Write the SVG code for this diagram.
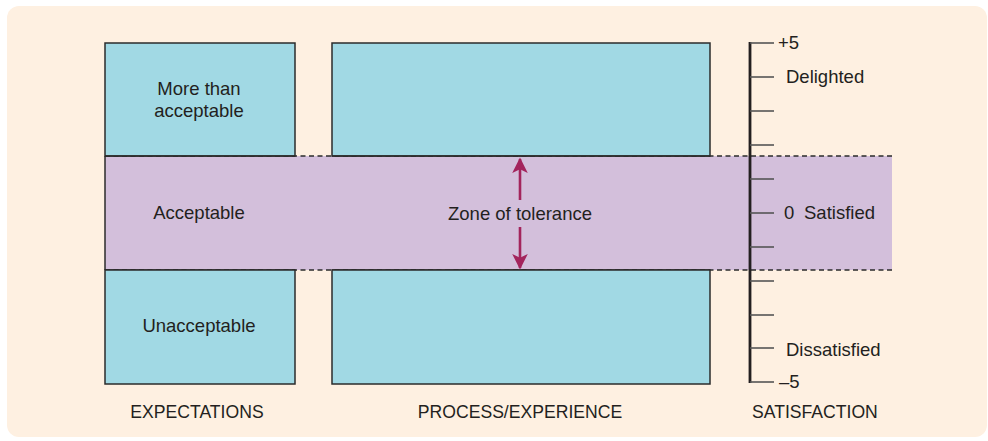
<svg xmlns="http://www.w3.org/2000/svg" width="988" height="441" viewBox="0 0 988 441">
<style>
.t{font-family:"Liberation Sans",Arial,Helvetica,sans-serif;font-size:18.5px;fill:#231f20}
.cap{font-size:17.6px}
.box{fill:#a1d9e4;stroke:#2b2b2b;stroke-width:1.5}
.dash{stroke:#2b2b2b;stroke-width:1.3;stroke-dasharray:5 3.5;fill:none}
.tick{stroke:#555;stroke-width:1.6}
.arr{stroke:#a3245c;stroke-width:2.6;fill:none}
</style>
<defs>
<marker id="ah" viewBox="0 0 10 10" refX="9" refY="5" markerWidth="6" markerHeight="6" markerUnits="strokeWidth" orient="auto">
<path d="M0,0 L10,5 L0,10 L2.5,5 Z" fill="#a3245c"/>
</marker>
</defs>
<rect x="0" y="0" width="988" height="441" fill="#ffffff"/>
<rect x="7" y="6" width="980" height="431" rx="12" fill="#fef0e1"/>
<g id="zone-band">
<rect x="105" y="156" width="787" height="114" fill="#d3bfdb"/>
<line x1="105" y1="156" x2="105" y2="270" stroke="#2b2b2b" stroke-width="1.5"/>
<line class="dash" x1="105" y1="156" x2="892" y2="156"/>
<line class="dash" x1="105" y1="270" x2="892" y2="270"/>
</g>
<g id="exp-more">
<rect class="box" x="105" y="43" width="190" height="113"/>
<text class="t" x="199" y="95" text-anchor="middle">More than</text>
<text class="t" x="199" y="117" text-anchor="middle">acceptable</text>
</g>
<g id="exp-acceptable">
<line x1="105" y1="156" x2="295" y2="156" stroke="#2b2b2b" stroke-width="1.5"/>
<line x1="105" y1="270" x2="295" y2="270" stroke="#2b2b2b" stroke-width="1.5"/>
<text class="t" x="199" y="219" text-anchor="middle">Acceptable</text>
</g>
<g id="exp-unacceptable">
<rect class="box" x="105" y="270" width="190" height="114"/>
<text class="t" x="199" y="332" text-anchor="middle">Unacceptable</text>
</g>
<g id="proc-top">
<rect class="box" x="332" y="43" width="378" height="113"/>
</g>
<g id="proc-zone">
<line x1="332" y1="156" x2="710" y2="156" stroke="#2b2b2b" stroke-width="1.5"/>
<line x1="332" y1="270" x2="710" y2="270" stroke="#2b2b2b" stroke-width="1.5"/>
<text class="t" x="520" y="220" text-anchor="middle">Zone of tolerance</text>
</g>
<g id="proc-bottom">
<rect class="box" x="332" y="270" width="378" height="114"/>
</g>
<g id="connectors">
<line class="arr" x1="520" y1="200" x2="520" y2="159" marker-end="url(#ah)"/>
<line class="arr" x1="520" y1="227" x2="520" y2="268" marker-end="url(#ah)"/>
</g>
<g id="satisfaction-scale">
<line x1="750" y1="42" x2="750" y2="383" stroke="#231f20" stroke-width="2.8"/>
<line class="tick" x1="750" y1="43" x2="774" y2="43"/>
<line class="tick" x1="750" y1="77" x2="774" y2="77"/>
<line class="tick" x1="750" y1="111" x2="774" y2="111"/>
<line class="tick" x1="750" y1="145" x2="774" y2="145"/>
<line class="tick" x1="750" y1="179" x2="774" y2="179"/>
<line class="tick" x1="750" y1="213" x2="774" y2="213"/>
<line class="tick" x1="750" y1="247" x2="774" y2="247"/>
<line class="tick" x1="750" y1="281" x2="774" y2="281"/>
<line class="tick" x1="750" y1="315" x2="774" y2="315"/>
<line class="tick" x1="750" y1="348" x2="774" y2="348"/>
<line class="tick" x1="750" y1="382" x2="774" y2="382"/>
<text class="t" x="778" y="49" font-size="16.5">+5</text>
<text class="t" x="786" y="83">Delighted</text>
<text class="t" x="784" y="219">0</text>
<text class="t" x="804" y="219">Satisfied</text>
<text class="t" x="786" y="356">Dissatisfied</text>
<text class="t" x="779" y="388">–5</text>
</g>
<g id="labels">
<text class="t cap" x="197" y="418" text-anchor="middle">EXPECTATIONS</text>
<text class="t cap" x="520" y="418" text-anchor="middle">PROCESS/EXPERIENCE</text>
<text class="t cap" x="752" y="418">SATISFACTION</text>
</g>
</svg>
